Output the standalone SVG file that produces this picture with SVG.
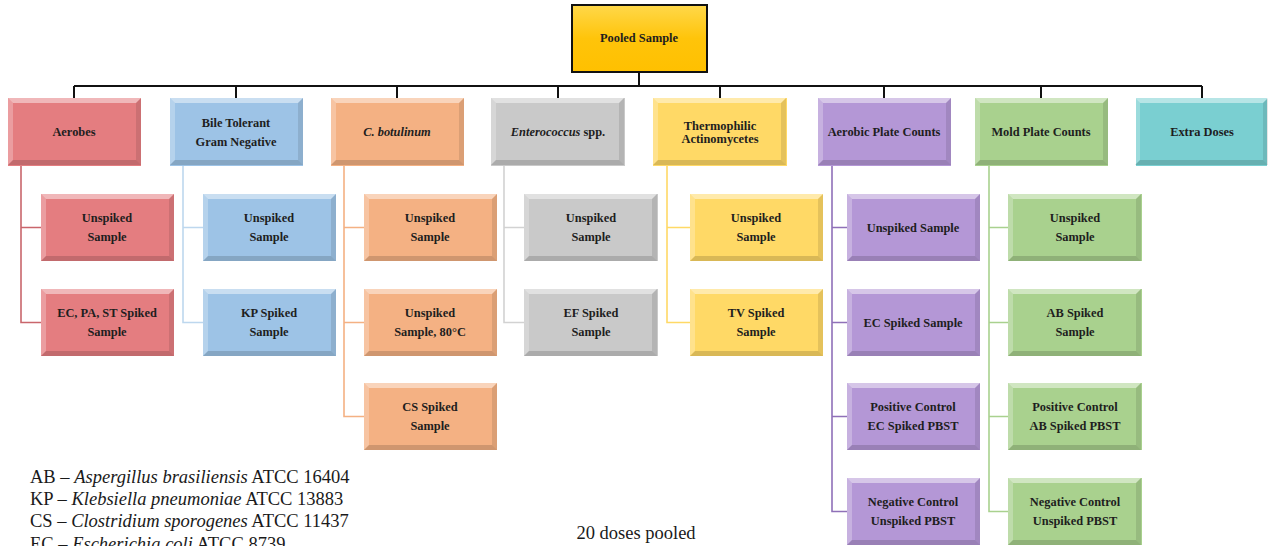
<svg xmlns="http://www.w3.org/2000/svg" width="1274" height="546" viewBox="0 0 1274 546">
<style>
.t{font-family:"Liberation Serif","Times New Roman",serif;font-weight:bold;font-size:12.4px;fill:#1e1e1e;text-anchor:middle}
.lg{font-family:"Liberation Serif","Times New Roman",serif;font-size:18.5px;fill:#1a1a1a}
.i{font-style:italic}
.c{fill:none;stroke-width:1.6}
.red{fill:#E47D80}.blu{fill:#9DC3E6}.org{fill:#F4B183}.gry{fill:#C9C9C9}.yel{fill:#FFD966}.pur{fill:#B497D6}.grn{fill:#A9D18E}.tea{fill:#7ACFD1}
</style>
<defs>
<g id="bev">
<polygon points="0,0 133,0 128,5 5,5" fill="#fff" opacity=".45"/>
<polygon points="0,0 5,5 5,62 0,67" fill="#fff" opacity=".25"/>
<polygon points="133,0 133,67 128,62 128,5" fill="#000" opacity=".10"/>
<polygon points="0,67 5,62 128,62 133,67" fill="#000" opacity=".15"/>
</g>
<linearGradient id="gold" x1="0" y1="0" x2="0" y2="1">
<stop offset="0" stop-color="#FFD84A"/><stop offset=".5" stop-color="#FFC40A"/><stop offset="1" stop-color="#FFC000"/>
</linearGradient>
</defs>

<g id="connectors">
<path d="M639,72 V86 M74,86 H1202 M74,86 V98 M236,86 V98 M397,86 V98 M558,86 V98 M720,86 V98 M884,86 V98 M1041,86 V98 M1202,86 V98" stroke="#111" stroke-width="2" fill="none"/>
<path class="c" stroke="#C9666C" d="M21,166 V322.5 H41 M21,227.5 H41"/>
<path class="c" stroke="#BDD7EE" d="M183,166 V322.5 H203 M183,227.5 H203"/>
<path class="c" stroke="#F4B183" d="M344,166 V416.5 H364 M344,227.5 H364 M344,322.5 H364"/>
<path class="c" stroke="#D2D2D2" d="M504,166 V322.5 H524 M504,227.5 H524"/>
<path class="c" stroke="#FFD966" d="M667,166 V322.5 H690 M667,227.5 H690"/>
<path class="c" stroke="#8F70B8" d="M832,166 V511.5 H847 M832,227.5 H847 M832,322.5 H847 M832,416.5 H847"/>
<path class="c" stroke="#A9D18E" d="M989,166 V511.5 H1008 M989,227.5 H1008 M989,322.5 H1008 M989,416.5 H1008"/>
</g>

<g id="pooled">
<rect x="572" y="5" width="135" height="67" fill="url(#gold)" stroke="#111" stroke-width="2"/>
<text class="t" x="639" y="42">Pooled Sample</text>
</g>

<g id="aerobes"><rect class="red" x="8" y="98" width="133" height="68"/><use href="#bev" x="8" y="98"/><text class="t" x="74" y="136">Aerobes</text></g>
<g id="aerobes-unspiked"><rect class="red" x="41" y="194" width="133" height="67"/><use href="#bev" x="41" y="194"/><text class="t" x="107" y="222">Unspiked</text><text class="t" x="107" y="241">Sample</text></g>
<g id="aerobes-spiked"><rect class="red" x="41" y="289" width="133" height="67"/><use href="#bev" x="41" y="289"/><text class="t" x="107" y="317">EC, PA, ST Spiked</text><text class="t" x="107" y="336">Sample</text></g>

<g id="btgn"><rect class="blu" x="170" y="98" width="133" height="68"/><use href="#bev" x="170" y="98"/><text class="t" x="236" y="127">Bile Tolerant</text><text class="t" x="236" y="146">Gram Negative</text></g>
<g id="btgn-unspiked"><rect class="blu" x="203" y="194" width="133" height="67"/><use href="#bev" x="203" y="194"/><text class="t" x="269" y="222">Unspiked</text><text class="t" x="269" y="241">Sample</text></g>
<g id="btgn-spiked"><rect class="blu" x="203" y="289" width="133" height="67"/><use href="#bev" x="203" y="289"/><text class="t" x="269" y="317">KP Spiked</text><text class="t" x="269" y="336">Sample</text></g>

<g id="cbot"><rect class="org" x="331" y="98" width="133" height="68"/><use href="#bev" x="331" y="98"/><text class="t i" x="397" y="136">C. botulinum</text></g>
<g id="cbot-unspiked"><rect class="org" x="364" y="194" width="133" height="67"/><use href="#bev" x="364" y="194"/><text class="t" x="430" y="222">Unspiked</text><text class="t" x="430" y="241">Sample</text></g>
<g id="cbot-80"><rect class="org" x="364" y="289" width="133" height="67"/><use href="#bev" x="364" y="289"/><text class="t" x="430" y="317">Unspiked</text><text class="t" x="430" y="336">Sample, 80°C</text></g>
<g id="cbot-spiked"><rect class="org" x="364" y="383" width="133" height="67"/><use href="#bev" x="364" y="383"/><text class="t" x="430" y="411">CS Spiked</text><text class="t" x="430" y="430">Sample</text></g>

<g id="entero"><rect class="gry" x="491" y="98" width="134" height="68"/><use href="#bev" x="491" y="98"/><text class="t" x="558" y="136"><tspan class="i">Enterococcus</tspan> spp.</text></g>
<g id="entero-unspiked"><rect class="gry" x="524" y="194" width="134" height="67"/><use href="#bev" x="524" y="194"/><text class="t" x="591" y="222">Unspiked</text><text class="t" x="591" y="241">Sample</text></g>
<g id="entero-spiked"><rect class="gry" x="524" y="289" width="134" height="67"/><use href="#bev" x="524" y="289"/><text class="t" x="591" y="317">EF Spiked</text><text class="t" x="591" y="336">Sample</text></g>

<g id="thermo"><rect class="yel" x="653" y="98" width="134" height="68"/><use href="#bev" x="653" y="98"/><text class="t" x="720" y="130">Thermophilic</text><text class="t" x="720" y="143">Actinomycetes</text></g>
<g id="thermo-unspiked"><rect class="yel" x="690" y="194" width="133" height="67"/><use href="#bev" x="690" y="194"/><text class="t" x="756" y="222">Unspiked</text><text class="t" x="756" y="241">Sample</text></g>
<g id="thermo-spiked"><rect class="yel" x="690" y="289" width="133" height="67"/><use href="#bev" x="690" y="289"/><text class="t" x="756" y="317">TV Spiked</text><text class="t" x="756" y="336">Sample</text></g>

<g id="apc"><rect class="pur" x="818" y="98" width="133" height="68"/><use href="#bev" x="818" y="98"/><text class="t" x="884" y="136">Aerobic Plate Counts</text></g>
<g id="apc-unspiked"><rect class="pur" x="847" y="194" width="133" height="67"/><use href="#bev" x="847" y="194"/><text class="t" x="913" y="232">Unspiked Sample</text></g>
<g id="apc-spiked"><rect class="pur" x="847" y="289" width="133" height="67"/><use href="#bev" x="847" y="289"/><text class="t" x="913" y="327">EC Spiked Sample</text></g>
<g id="apc-pos"><rect class="pur" x="847" y="383" width="133" height="67"/><use href="#bev" x="847" y="383"/><text class="t" x="913" y="411">Positive Control</text><text class="t" x="913" y="430">EC Spiked PBST</text></g>
<g id="apc-neg"><rect class="pur" x="847" y="478" width="133" height="67"/><use href="#bev" x="847" y="478"/><text class="t" x="913" y="506">Negative Control</text><text class="t" x="913" y="525">Unspiked PBST</text></g>

<g id="mold"><rect class="grn" x="975" y="98" width="133" height="68"/><use href="#bev" x="975" y="98"/><text class="t" x="1041" y="136">Mold Plate Counts</text></g>
<g id="mold-unspiked"><rect class="grn" x="1008" y="194" width="134" height="67"/><use href="#bev" x="1008" y="194"/><text class="t" x="1075" y="222">Unspiked</text><text class="t" x="1075" y="241">Sample</text></g>
<g id="mold-spiked"><rect class="grn" x="1008" y="289" width="134" height="67"/><use href="#bev" x="1008" y="289"/><text class="t" x="1075" y="317">AB Spiked</text><text class="t" x="1075" y="336">Sample</text></g>
<g id="mold-pos"><rect class="grn" x="1008" y="383" width="134" height="67"/><use href="#bev" x="1008" y="383"/><text class="t" x="1075" y="411">Positive Control</text><text class="t" x="1075" y="430">AB Spiked PBST</text></g>
<g id="mold-neg"><rect class="grn" x="1008" y="478" width="134" height="67"/><use href="#bev" x="1008" y="478"/><text class="t" x="1075" y="506">Negative Control</text><text class="t" x="1075" y="525">Unspiked PBST</text></g>

<g id="extra"><rect class="tea" x="1136" y="98" width="131" height="68"/><use href="#bev" x="1135" y="98"/><text class="t" x="1202" y="136">Extra Doses</text></g>

<g id="legend">
<text class="lg" x="30" y="483">AB – <tspan class="i">Aspergillus brasiliensis</tspan> ATCC 16404</text>
<text class="lg" x="30" y="505">KP – <tspan class="i">Klebsiella pneumoniae</tspan> ATCC 13883</text>
<text class="lg" x="30" y="527">CS – <tspan class="i">Clostridium sporogenes</tspan> ATCC 11437</text>
<text class="lg" x="30" y="550">EC – <tspan class="i">Escherichia coli</tspan> ATCC 8739</text>
</g>
<text class="lg" x="636" y="539" text-anchor="middle">20 doses pooled</text>
</svg>
